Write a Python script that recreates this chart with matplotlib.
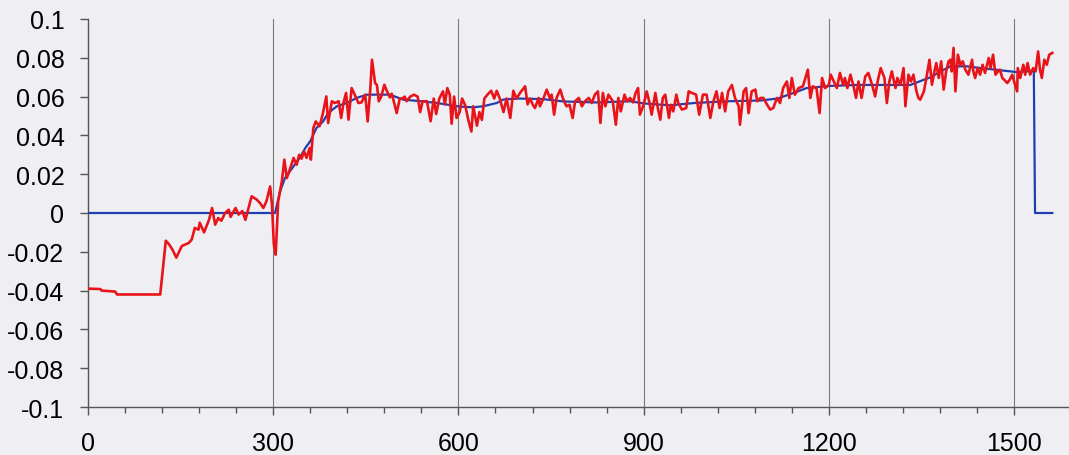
import matplotlib.pyplot as plt

# red (measured) trace
red_x = [0, 20, 22, 44, 47, 70, 90, 117,
         126, 131, 137, 143, 152, 163, 168, 173, 179, 181, 188, 196, 201, 206, 211, 216,
         222, 228, 231, 239, 244, 250, 255, 260, 265, 273, 279, 284, 289, 295, 298, 301,
         304, 308, 314, 318, 322, 326, 333, 338, 342, 346, 350, 354, 359, 361, 365, 369,
         375, 380, 386, 389, 395, 400, 406, 410, 414, 418, 422, 427, 432, 438, 443, 449,
         453, 457, 460, 465, 468, 471, 475, 480, 484, 489, 492, 496, 500, 505, 509, 513,
         516, 522, 528, 534, 538, 542, 549, 555, 560, 564, 569, 575, 578, 582, 586, 589,
         593, 597, 602, 606, 611, 616, 621, 624, 630, 634, 638, 642, 647, 653, 658, 662,
         667, 673, 678, 684, 689, 694, 700, 708, 712, 716, 721, 724, 730, 732, 738, 743,
         748, 751, 755, 759, 765, 769, 775, 780, 785, 789, 795, 800, 805, 811, 816, 821,
         826, 830, 834, 838, 843, 850, 855, 859, 863, 869, 873, 878, 883, 887, 891, 894,
         900, 905, 909, 913, 919, 923, 927, 931, 935, 941, 944, 948, 953, 956, 962, 969,
         973, 978, 985, 990, 996, 1002, 1008, 1013, 1018, 1023, 1027, 1032, 1037, 1043,
         1048, 1054, 1056, 1062, 1066, 1070, 1075, 1081, 1084, 1089, 1094, 1100, 1105,
         1110, 1116, 1121, 1126, 1132, 1136, 1140, 1145, 1151, 1158, 1162, 1166, 1170,
         1174, 1180, 1185, 1189, 1194, 1200, 1203, 1208, 1213, 1218, 1223, 1226, 1230,
         1235, 1240, 1244, 1248, 1253, 1259, 1264, 1270, 1275, 1279, 1284, 1290, 1294,
         1298, 1302, 1308, 1311, 1316, 1321, 1324, 1329, 1333, 1337, 1342, 1345, 1348,
         1354, 1358, 1363, 1367, 1371, 1374, 1378, 1382, 1386, 1390, 1394, 1397, 1399,
         1402, 1405, 1409, 1413, 1417, 1421, 1426, 1432, 1434, 1437, 1441, 1445, 1449,
         1453, 1459, 1462, 1466, 1470, 1474, 1477, 1481, 1484, 1489, 1493, 1497, 1500,
         1505, 1506, 1510, 1515, 1518, 1522, 1526, 1531, 1535, 1539, 1542, 1545, 1549,
         1553, 1557, 1562]
red_y = [-0.039, -0.0392, -0.040, -0.0405, -0.042, -0.042, -0.042, -0.042,
         -0.0143, -0.016, -0.019, -0.023, -0.017, -0.0155, -0.0137, -0.0077, -0.0086, -0.005,
         -0.010, -0.0035, 0.0026, -0.006, -0.0026, -0.004, 0.000, 0.0017, -0.002, 0.0026,
         -0.0008, 0.001, -0.0035, 0.0026, 0.0086, 0.007, 0.005, 0.0026, 0.006, 0.0137,
         0.0043, -0.016, -0.0215, 0.006, 0.0163, 0.0275, 0.018, 0.0215, 0.0284, 0.0249,
         0.030, 0.028, 0.0318, 0.0284, 0.0335, 0.0275, 0.0438, 0.0472, 0.0447, 0.0507,
         0.0601, 0.0464, 0.0576, 0.0567, 0.0576, 0.049, 0.057, 0.0619, 0.0481, 0.0644,
         0.061, 0.0567, 0.057, 0.061, 0.0472, 0.0627, 0.079, 0.067, 0.066, 0.0576, 0.060,
         0.0661, 0.063, 0.0596, 0.0615, 0.0567, 0.0515, 0.059, 0.059, 0.060,
         0.0576, 0.060, 0.061, 0.060, 0.052, 0.0576, 0.0576, 0.0473, 0.059, 0.051, 0.059,
         0.0627, 0.056, 0.0644, 0.061, 0.046, 0.060, 0.049, 0.052, 0.059, 0.0555, 0.048,
         0.042, 0.055, 0.045, 0.052, 0.048, 0.059, 0.061, 0.063, 0.059, 0.063, 0.059,
         0.052, 0.059, 0.049, 0.063, 0.059, 0.062, 0.0653, 0.056, 0.059, 0.0555, 0.0541,
         0.0593, 0.055, 0.0593, 0.0636, 0.0593, 0.061, 0.0507, 0.0593, 0.0636, 0.0593,
         0.055, 0.0558, 0.049, 0.0576, 0.0593, 0.055, 0.0576, 0.0593, 0.0567, 0.061,
         0.0627, 0.0464, 0.0619, 0.055, 0.061, 0.0576, 0.0455, 0.0593, 0.0524, 0.061,
         0.0576, 0.0593, 0.057, 0.0619, 0.0644, 0.0507, 0.0558, 0.0627, 0.0576, 0.0507,
         0.0619, 0.0541, 0.0481, 0.0593, 0.061, 0.049, 0.0558, 0.0524, 0.061, 0.0567,
         0.0533, 0.0541, 0.0627, 0.0619, 0.061, 0.0507, 0.061, 0.061, 0.049, 0.0576,
         0.0627, 0.0541, 0.0619, 0.0524, 0.0627, 0.066, 0.0593, 0.055, 0.0455, 0.0627,
         0.0644, 0.0515, 0.0627, 0.0636, 0.0576, 0.0593, 0.0593, 0.0558, 0.0533, 0.0541,
         0.0593, 0.0567, 0.0644, 0.0678, 0.0593, 0.0696, 0.061, 0.0644, 0.0653, 0.0696,
         0.0739, 0.0593, 0.0653, 0.0644, 0.0515, 0.0696, 0.0644, 0.0661, 0.0713, 0.0678,
         0.0644, 0.0722, 0.0661, 0.0696, 0.0644, 0.0713, 0.0653, 0.0593, 0.0678, 0.0593,
         0.0704, 0.0722, 0.0661, 0.0601, 0.0678, 0.0747, 0.0696, 0.0567, 0.0678, 0.0730,
         0.0644, 0.0696, 0.0661, 0.0747, 0.0550, 0.0713, 0.0678, 0.0713, 0.0627, 0.0593,
         0.0584, 0.0627, 0.0696, 0.0790, 0.0661, 0.0730, 0.0773, 0.0696, 0.0782, 0.0636,
         0.0730, 0.0782, 0.0790, 0.0730, 0.0851, 0.0627, 0.0816, 0.0764, 0.0782, 0.0739,
         0.0713, 0.0790, 0.0730, 0.0696, 0.0747, 0.0713, 0.0764, 0.0722, 0.0799, 0.0747,
         0.0816, 0.0713, 0.0730, 0.0739, 0.0696, 0.0687, 0.0670, 0.0687, 0.0713, 0.0678,
         0.0627, 0.0747, 0.0696, 0.0764, 0.0713, 0.0773, 0.0713, 0.0747, 0.0730, 0.0833,
         0.0739, 0.0696, 0.0790, 0.0764, 0.0816, 0.0825]

# blue (smoothed) trace
blue_x = [0, 303, 311, 319, 327, 343, 352, 360, 370, 381, 389, 403, 419, 435, 452, 473,
          489, 511, 540, 565, 603, 624, 640, 662, 673, 697, 737, 770, 824, 878, 900, 943,
          982, 1036, 1090, 1117, 1144, 1164, 1202, 1246, 1300, 1332, 1354, 1365, 1381,
          1397, 1424, 1446, 1472, 1494, 1505, 1532, 1534, 1562]
blue_y = [0, 0, 0.011, 0.018, 0.0215, 0.0284, 0.0335, 0.037, 0.0438, 0.0473, 0.0515,
          0.055, 0.0567, 0.0593, 0.061, 0.061, 0.061, 0.0584, 0.0576, 0.0567, 0.0548,
          0.0545, 0.055, 0.0567, 0.0585, 0.059, 0.0587, 0.0575, 0.057, 0.0576, 0.0565,
          0.0555, 0.0567, 0.0576, 0.058, 0.059, 0.062, 0.0644, 0.0655, 0.066, 0.066,
          0.066, 0.0687, 0.070, 0.073, 0.0756, 0.0756, 0.0747, 0.0738, 0.073, 0.0726,
          0.0733, 0, 0]

x_ticks = [0, 300, 600, 900, 1200, 1500]
y_ticks = [-0.1, -0.08, -0.06, -0.04, -0.02, 0, 0.02, 0.04, 0.06, 0.08, 0.1]
y_labels = ['-0.1', '-0.08', '-0.06', '-0.04', '-0.02', '0', '0.02', '0.04', '0.06', '0.08', '0.1']

bg = '#efeff3'
plt.rcParams['font.family'] = ['Liberation Sans', 'DejaVu Sans']

fig = plt.figure(figsize=(10.69, 4.56), dpi=100, facecolor=bg)
ax = fig.add_axes([88 / 1069, 48 / 456, 981 / 1069, 388 / 456])
ax.set_facecolor(bg)

ax.plot(blue_x, blue_y, color='#1f3fb0', lw=1.6, zorder=3)
ax.plot(red_x, red_y, color='#e8141a', lw=1.9, zorder=4)

ax.set_xlim(0, 1589)
ax.set_ylim(-0.1, 0.1)

for x in x_ticks[1:]:
    ax.axvline(x, color='#7a7a7a', lw=0.8, zorder=1)

ax.set_xticks(x_ticks)
ax.set_xticks(range(0, 1560, 60), minor=True)
ax.set_yticks(y_ticks)
ax.set_yticklabels(y_labels)

for s in ['top', 'right']:
    ax.spines[s].set_visible(False)
for s in ['left', 'bottom']:
    ax.spines[s].set_color('#555555')
    ax.spines[s].set_linewidth(1.0)

ax.tick_params(axis='y', direction='out', length=6, width=1, color='#555555',
               labelsize=18, pad=11)
ax.tick_params(axis='x', which='major', direction='out', length=6, width=1,
               color='#555555', labelsize=18, pad=11)
ax.tick_params(axis='x', which='minor', direction='out', length=4, width=1,
               color='#555555')

fig.savefig('out.png', dpi=100, facecolor=bg)
